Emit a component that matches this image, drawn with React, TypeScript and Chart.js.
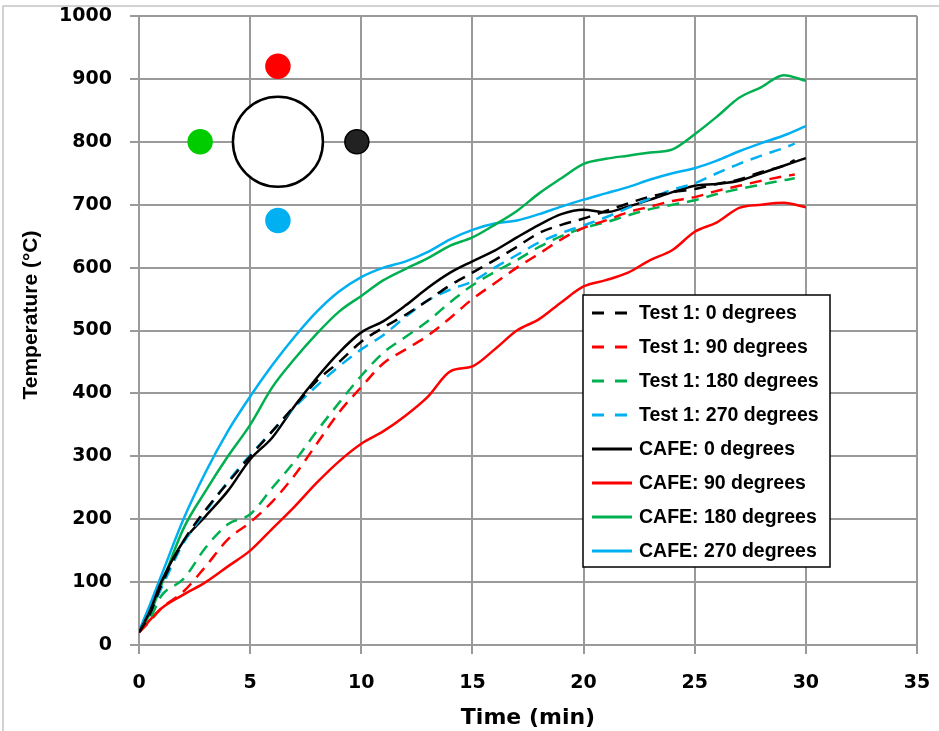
import React, { useEffect, useRef } from 'react';
import { Chart, registerables } from 'chart.js';

Chart.register(...registerables);

// ---- data ----
const TEST_TIME = [0, 0.5, 1, 2, 3, 4, 5, 6, 7, 8, 9, 10, 11, 12, 13, 14, 15, 16, 17, 18, 19, 20, 21, 22, 23, 24, 25, 26, 27, 28, 29, 29.5];
const CAFE_TIME = [0, 0.5, 1, 2, 3, 4, 5, 6, 7, 8, 9, 10, 11, 12, 13, 14, 15, 16, 17, 18, 19, 20, 21, 22, 23, 24, 25, 26, 27, 28, 29, 30];

const TEST_0 = [20, 50, 95, 165, 215, 258, 300, 340, 380, 420, 450, 482, 505, 525, 548, 572, 592, 612, 633, 655, 668, 678, 690, 702, 713, 720, 725, 733, 740, 752, 762, 771];
const TEST_90 = [20, 38, 58, 85, 125, 168, 195, 228, 270, 320, 370, 410, 448, 470, 492, 520, 550, 575, 600, 622, 645, 663, 675, 688, 697, 706, 712, 722, 730, 738, 745, 748];
const TEST_180 = [20, 42, 78, 105, 155, 192, 208, 250, 292, 340, 385, 428, 465, 490, 515, 545, 572, 593, 612, 633, 650, 663, 672, 683, 693, 700, 707, 717, 725, 732, 739, 742];
const TEST_270 = [20, 50, 90, 162, 212, 260, 302, 340, 378, 412, 443, 470, 493, 522, 548, 565, 578, 600, 620, 640, 655, 667, 680, 695, 710, 724, 734, 750, 765, 778, 790, 797];

const CAFE_0 = [20, 55, 100, 165, 205, 245, 295, 330, 380, 425, 465, 497, 515, 540, 568, 592, 610, 627, 648, 668, 685, 692, 688, 697, 708, 720, 730, 733, 738, 750, 762, 774];
const CAFE_90 = [20, 40, 58, 80, 100, 125, 150, 185, 220, 258, 292, 320, 340, 365, 395, 435, 443, 470, 500, 518, 545, 570, 580, 592, 612, 628, 657, 672, 695, 700, 703, 696];
const CAFE_180 = [20, 50, 95, 185, 245, 300, 350, 410, 455, 495, 530, 555, 580, 598, 615, 635, 648, 668, 690, 718, 742, 765, 773, 778, 783, 788, 812, 840, 870, 887, 906, 897];
const CAFE_270 = [22, 65, 110, 200, 275, 340, 395, 445, 490, 530, 562, 585, 600, 610, 625, 645, 660, 670, 675, 685, 697, 708, 718, 728, 740, 750, 758, 770, 785, 798, 810, 825];

const SERIES_LABELS = [
  'Test 1: 0 degrees', 'Test 1: 90 degrees', 'Test 1: 180 degrees', 'Test 1: 270 degrees',
  'CAFE: 0 degrees', 'CAFE: 90 degrees', 'CAFE: 180 degrees', 'CAFE: 270 degrees',
];

// Sensor position sketch (in data units: time, temperature)
const SKETCH_CENTER = { x: 6.25, y: 800 };
const SKETCH_DOTS = [
  { x: 6.25, y: 920, color: '#ff0000' },
  { x: 2.75, y: 800, color: '#00cc00' },
  { x: 9.8, y: 800, color: '#222222' },
  { x: 6.25, y: 675, color: '#00b0f0' },
];

const X_TICK_STEP = 5;
const Y_TICK_STEP = 100;

const BLACK = '#000000';
const RED = '#ff0000';
const GREEN = '#00b050';
const BLUE = '#00b0f0';
const GRID = '#9a9a9a';

const TICK_FONT = { family: '"DejaVu Sans", sans-serif', size: 19, weight: 'bold' as const };
const LABEL_FONT = '"Liberation Sans", Arial, sans-serif';

function pts(xs: number[], ys: number[]) {
  return xs.map((x, i) => ({ x, y: ys[i] }));
}

const DASH = [12, 8];

function zeroPadding(s: any) {
  s.paddingTop = 0;
  s.paddingBottom = 0;
  s.paddingLeft = 0;
  s.paddingRight = 0;
}

export default function App() {
  const ref = useRef<HTMLCanvasElement | null>(null);

  useEffect(() => {
    const canvas = ref.current;
    if (!canvas) return;

    const mk = (label: string, xs: number[], ys: number[], color: string, dashed: boolean) => ({
      label,
      data: pts(xs, ys),
      borderColor: color,
      backgroundColor: color,
      borderWidth: 2.5,
      borderDash: dashed ? DASH : [],
      pointRadius: 0,
      tension: 0.4,
      cubicInterpolationMode: 'monotone' as const,
      fill: false,
      isSeries: true,
    });

    const datasets: any[] = [
      mk(SERIES_LABELS[0], TEST_TIME, TEST_0, BLACK, true),
      mk(SERIES_LABELS[1], TEST_TIME, TEST_90, RED, true),
      mk(SERIES_LABELS[2], TEST_TIME, TEST_180, GREEN, true),
      mk(SERIES_LABELS[3], TEST_TIME, TEST_270, BLUE, true),
      mk(SERIES_LABELS[4], CAFE_TIME, CAFE_0, BLACK, false),
      mk(SERIES_LABELS[5], CAFE_TIME, CAFE_90, RED, false),
      mk(SERIES_LABELS[6], CAFE_TIME, CAFE_180, GREEN, false),
      mk(SERIES_LABELS[7], CAFE_TIME, CAFE_270, BLUE, false),
    ];

    // sketch: big circle + four sensor dots
    datasets.push({
      type: 'scatter',
      label: 'sketch-circle',
      data: [SKETCH_CENTER],
      pointRadius: 45,
      pointBackgroundColor: '#ffffff',
      pointBorderColor: '#000000',
      pointBorderWidth: 2.5,
      showLine: false,
      isSeries: false,
    });
    SKETCH_DOTS.forEach((d) => {
      datasets.push({
        type: 'scatter',
        label: 'sketch-dot',
        data: [{ x: d.x, y: d.y }],
        pointRadius: 12,
        pointBackgroundColor: d.color,
        pointBorderColor: d.color === '#222222' ? '#000000' : d.color,
        pointBorderWidth: 1.5,
        showLine: false,
        isSeries: false,
      });
    });

    const decor = {
      id: 'decor',
      beforeDraw(chart: any) {
        const ctx = chart.ctx;
        ctx.save();
        ctx.fillStyle = '#ffffff';
        ctx.fillRect(0, 0, chart.width, chart.height);
        ctx.strokeStyle = '#c4c4c4';
        ctx.lineWidth = 1.5;
        ctx.beginPath();
        ctx.moveTo(3, chart.height);
        ctx.lineTo(3, 6);
        ctx.lineTo(chart.width, 6);
        ctx.stroke();
        ctx.restore();
      },
      afterDraw(chart: any) {
        const ctx = chart.ctx;
        ctx.save();
        // y-axis title
        ctx.translate(31, 315);
        ctx.rotate(-Math.PI / 2);
        ctx.fillStyle = '#000';
        ctx.font = `bold 21px ${LABEL_FONT}`;
        ctx.textAlign = 'center';
        ctx.textBaseline = 'middle';
        ctx.fillText('Temperature (°C)', 0, 0);
        ctx.restore();

        // legend
        ctx.save();
        const bx = 583, by = 295, bw = 247, bh = 272;
        ctx.fillStyle = '#ffffff';
        ctx.fillRect(bx, by, bw, bh);
        ctx.strokeStyle = '#000';
        ctx.lineWidth = 1.5;
        ctx.strokeRect(bx, by, bw, bh);
        const series = chart.data.datasets.filter((d: any) => d.isSeries);
        ctx.font = `bold 19.5px ${LABEL_FONT}`;
        ctx.textBaseline = 'middle';
        ctx.textAlign = 'left';
        series.forEach((d: any, i: number) => {
          const y = 313 + i * 34;
          ctx.strokeStyle = d.borderColor;
          ctx.lineWidth = 3;
          ctx.setLineDash(d.borderDash && d.borderDash.length ? [12, 11] : []);
          ctx.beginPath();
          ctx.moveTo(592, y);
          ctx.lineTo(632, y);
          ctx.stroke();
          ctx.setLineDash([]);
          ctx.fillStyle = '#000';
          ctx.fillText(d.label, 639, y + 1);
        });
        ctx.restore();
      },
    };

    const chart = new Chart(canvas, {
      type: 'line',
      data: { datasets },
      options: {
        animation: false,
        responsive: false,
        devicePixelRatio: 1,
        layout: { autoPadding: false, padding: { top: 16, right: 22, left: 0, bottom: 0 } },
        plugins: {
          legend: { display: false },
          tooltip: { enabled: false },
        },
        scales: {
          x: {
            type: 'linear',
            min: 0,
            max: 35,
            ticks: { stepSize: X_TICK_STEP, font: TICK_FONT, color: '#000', padding: 18, maxRotation: 0, callback: (v: any) => String(v) },
            grid: { color: GRID, lineWidth: 2, tickLength: 9 },
            border: { color: GRID, width: 2 },
            title: {
              display: true,
              text: 'Time (min)',
              color: '#000',
              font: { family: '"DejaVu Sans", sans-serif', size: 22, weight: 'bold', lineHeight: 1 },
              padding: { top: 0, bottom: 2 },
            },
            afterFit: (s: any) => { s.height = 86; zeroPadding(s); },
          },
          y: {
            min: 0,
            max: 1000,
            ticks: { stepSize: Y_TICK_STEP, font: TICK_FONT, color: '#000', padding: 18, callback: (v: any) => String(v) },
            grid: { color: GRID, lineWidth: 2, tickLength: 9 },
            border: { color: GRID, width: 2 },
            afterFit: (s: any) => { s.width = 139; zeroPadding(s); },
          },
        },
      } as any,
      plugins: [decor],
    });

    return () => chart.destroy();
  }, []);

  return (
    <div style={{ position: 'absolute', left: 0, top: 0, width: 939, height: 731 }}>
      <canvas ref={ref} width={939} height={731} style={{ display: 'block' }} />
    </div>
  );
}
